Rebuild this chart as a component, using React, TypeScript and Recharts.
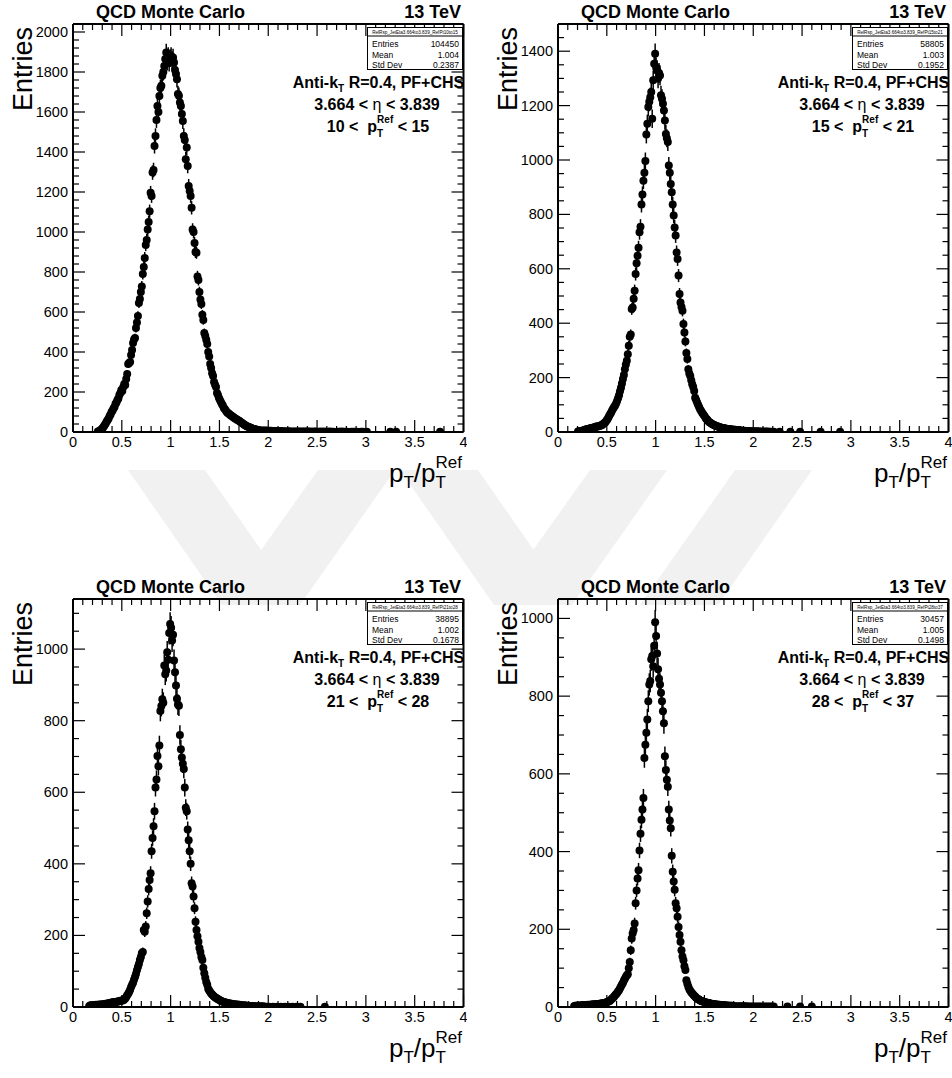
import { ScatterChart, Scatter, XAxis, YAxis, ErrorBar } from 'recharts';

const FONT = "'Liberation Sans', Arial, Helvetica, sans-serif";
const binWidth = 0.01;

const xTickLabels = [0, 0.5, 1, 1.5, 2, 2.5, 3, 3.5, 4];
const yTickLabels2000 = [0, 200, 400, 600, 800, 1000, 1200, 1400, 1600, 1800, 2000];
const yTickLabels1400 = [0, 200, 400, 600, 800, 1000, 1200, 1400];
const yTickLabels1000 = [0, 200, 400, 600, 800, 1000];

// 10 < pT(ref) < 15
const start10to15 = 0.25;
const counts10to15 = [
  2, 4, 6, 10, 15, 20, 28, 35, 42, 52,
  60, 68, 80, 88, 100, 108, 118, 125, 140, 148,
  160, 168, 185, 195, 210, 205, 225, 240, 235, 265,
  290, 340, 345, 350, 385, 410, 445, 462, 470, 520,
  548, 580, 645, 665, 700, 728, 790, 825, 870, 935,
  960, 1012, 1050, 1104, 1196, 1180, 1297, 1310, 1430, 1480,
  1560, 1630, 1600, 1680, 1720, 1731, 1781, 1800, 1830, 1865,
  1898, 1850, 1880, 1845, 1870, 1880, 1860, 1873, 1848, 1810,
  1790, 1764, 1690, 1681, 1647, 1630, 1590, 1555, 1480, 1460,
  1364, 1422, 1330, 1230, 1205, 1180, 1121, 1012, 1000, 945,
  900, 896, 778, 760, 700, 662, 640, 586, 560, 495,
  480, 461, 440, 400, 378, 340, 320, 294, 280, 250,
  236, 225, 195, 185, 170, 160, 150, 140, 132, 120,
  115, 108, 100, 95, 92, 88, 84, 80, 78, 72,
  70, 66, 64, 60, 58, 55, 50, 48, 44, 40,
  36, 34, 30, 28, 26, 24, 22, 20, 18, 16,
  15, 13, 12, 11, 10,
];
const tailX10to15 = [
  1.91, 1.93, 1.95, 1.97, 1.99, 2.01, 2.03, 2.05, 2.07, 2.09, 2.11, 2.13, 2.15, 2.17, 2.19, 2.21,
  2.23, 2.25, 2.27, 2.29, 2.31, 2.33, 2.35, 2.37, 2.39, 2.41, 2.43, 2.45, 2.47, 2.49, 2.53, 2.55,
  2.57, 2.59, 2.61, 2.63, 2.65, 2.67, 2.71, 2.73, 2.75, 2.77, 2.79, 2.81, 2.85, 2.87, 2.89, 2.91,
  2.95, 2.97, 3.01, 3.25, 3.31, 3.76,
];
const tailY10to15 = [
  9, 8, 8, 7, 7, 6, 6, 5, 5, 5, 4, 5, 4, 4, 3, 4,
  3, 3, 3, 3, 2, 3, 2, 2, 2, 2, 2, 1, 2, 2, 2, 1,
  2, 1, 1, 2, 1, 1, 1, 1, 2, 1, 1, 1, 1, 1, 1, 1,
  1, 1, 1, 1, 1, 1,
];

// 15 < pT(ref) < 21
const start15to21 = 0.2;
const counts15to21 = [
  2, 3, 3, 4, 5, 5, 6, 8, 9, 10,
  11, 12, 13, 14, 15, 16, 17, 17, 19, 20,
  20, 21, 22, 24, 25, 27, 30, 33, 36, 41,
  46, 52, 60, 66, 72, 80, 86, 92, 97, 105,
  114, 124, 135, 150, 163, 178, 195, 210, 231, 248,
  262, 286, 317, 350, 358, 452, 458, 490, 519, 581,
  620, 648, 677, 734, 755, 836, 873, 924, 953, 996,
  1094, 1133, 1195, 1214, 1231, 1250, 1152, 1293, 1354, 1391,
  1340, 1330, 1300, 1320, 1311, 1238, 1225, 1207, 1182, 1145,
  1096, 1080, 1066, 980, 953, 912, 881, 836, 796, 752,
  722, 660, 636, 575, 507, 476, 460, 446, 397, 366,
  333, 290, 268, 231, 215, 206, 190, 176, 165, 151,
  126, 118, 108, 100, 92, 84, 78, 72, 66, 62,
  56, 50, 47, 42, 38, 35, 33, 30, 28, 27,
  25, 23, 22, 20, 19, 18, 17, 16, 15, 14,
  14, 13, 12, 11, 11, 10, 10, 9, 9, 8,
  8, 8, 7, 7, 7, 6, 6, 5, 5, 5,
];
const tailX15to21 = [
  1.91, 1.93, 1.95, 1.97, 1.99, 2.01, 2.03, 2.05, 2.07, 2.09, 2.11, 2.13, 2.15, 2.17, 2.19, 2.21,
  2.27, 2.38, 2.48, 2.69, 2.89,
];
const tailY15to21 = [5, 4, 4, 4, 3, 3, 3, 3, 2, 2, 2, 2, 2, 1, 1, 1, 1, 1, 1, 1, 1];

// 21 < pT(ref) < 28
const start21to28 = 0.16;
const counts21to28 = [
  2, 4, 5, 4, 5, 4, 5, 6, 5, 6,
  6, 7, 6, 7, 8, 7, 8, 9, 9, 10,
  10, 11, 12, 12, 13, 13, 14, 14, 15, 15,
  16, 16, 17, 18, 18, 19, 21, 24, 28, 33,
  37, 42, 48, 56, 62, 68, 76, 84, 92, 103,
  112, 120, 131, 140, 150, 154, 215, 210, 225, 262,
  295, 330, 355, 374, 435, 472, 505, 547, 613, 636,
  701, 673, 731, 827, 841, 860, 850, 954, 930, 940,
  991, 970, 1045, 1070, 1060, 1024, 1040, 968, 935, 898,
  861, 845, 842, 760, 720, 697, 680, 665, 613, 557,
  547, 496, 466, 435, 400, 346, 337, 309, 276, 238,
  215, 198, 182, 165, 154, 140, 131, 110, 94, 82,
  70, 62, 51, 46, 42, 38, 35, 32, 29, 27,
  25, 24, 22, 20, 19, 17, 16, 15, 14, 13,
  12, 12, 11, 10, 10, 9, 9, 8, 8, 7,
  7, 7, 6, 6, 6, 5, 5, 5, 4, 4,
  4, 4, 3, 3,
];
const tailX21to28 = [
  1.81, 1.83, 1.85, 1.87, 1.89, 1.91, 1.93, 1.95, 1.97, 1.99, 2.01, 2.05, 2.09, 2.13, 2.17, 2.21,
  2.25, 2.29, 2.33, 2.58,
];
const tailY21to28 = [3, 3, 3, 2, 2, 2, 2, 2, 1, 1, 1, 1, 1, 1, 1, 1, 1, 1, 1, 1];

// 28 < pT(ref) < 37
const start28to37 = 0.16;
const counts28to37 = [
  2, 3, 3, 3, 4, 3, 4, 4, 4, 5,
  4, 5, 5, 5, 6, 5, 6, 6, 6, 7,
  6, 7, 7, 7, 8, 8, 8, 9, 9, 9,
  10, 10, 11, 12, 13, 14, 15, 17, 19, 22,
  24, 27, 30, 33, 36, 40, 43, 48, 53, 58,
  62, 68, 73, 78, 82, 84, 100, 116, 146, 176,
  190, 198, 215, 267, 300, 331, 352, 403, 446, 482,
  508, 538, 641, 675, 706, 740, 787, 830, 839, 895,
  903, 877, 930, 990, 955, 910, 869, 845, 830, 809,
  787, 761, 730, 645, 610, 585, 567, 508, 480, 460,
  389, 348, 323, 302, 267, 254, 232, 206, 185, 168,
  146, 130, 120, 105, 95, 69, 60, 52, 46, 42,
  38, 35, 32, 29, 27, 24, 22, 20, 19, 17,
  16, 15, 14, 13, 12, 12, 11, 10, 10, 9,
  9, 8, 8, 7, 7, 7, 6, 6, 6, 6,
  5, 5, 5, 5, 4, 4, 4, 4, 3, 3,
  3, 3, 3, 2,
];
const tailX28to37 = [
  1.81, 1.83, 1.85, 1.87, 1.89, 1.91, 1.93, 1.95, 1.97, 1.99, 2.01, 2.03, 2.05, 2.07, 2.09, 2.11,
  2.13, 2.15, 2.17, 2.19, 2.21, 2.35, 2.48, 2.6,
];
const tailY28to37 = [2, 2, 2, 2, 2, 2, 2, 1, 1, 1, 1, 1, 1, 1, 1, 1, 1, 1, 1, 1, 1, 1, 1, 1];

const statNames = [
  'RelRsp_JetEta3.664to3.839_RefPt10to15',
  'RelRsp_JetEta3.664to3.839_RefPt15to21',
  'RelRsp_JetEta3.664to3.839_RefPt21to28',
  'RelRsp_JetEta3.664to3.839_RefPt28to37',
];
const statEntries = ['104450', '58805', '38895', '30457'];
const statMeans = ['1.004', '1.003', '1.002', '1.005'];
const statStdDevs = ['0.2387', '0.1952', '0.1678', '0.1498'];
const ptLow = ['10', '15', '21', '28'];
const ptHigh = ['15', '21', '28', '37'];
const yMax = [2040, 1500, 1140, 1050];

type Pt = { x: number; y: number; err: number };

function buildPoints(start: number, counts: number[], tailX: number[], tailY: number[]): Pt[] {
  const pts = counts.map((c, i) => ({ x: start + (i + 0.5) * binWidth, y: c }));
  tailX.forEach((x, i) => pts.push({ x, y: tailY[i] }));
  return pts.filter((p) => p.y > 0).map((p) => ({ ...p, err: Math.sqrt(p.y) }));
}

function withMinors(major: number[], sub: number, max: number) {
  const step = (major[1] - major[0]) / sub;
  const out: number[] = [];
  for (let i = 0; i * step <= max + 1e-9; i++) out.push(Math.round(i * step * 1000) / 1000);
  return out;
}

const isMajor = (v: number, step: number) => Math.abs(v / step - Math.round(v / step)) < 1e-6;

const PANEL_W = 467;
const CHART_H = 500;
const MAJOR_LEN = 12;
const MINOR_LEN = 6;

const panels = [
  { left: 0, top: 0, data: buildPoints(start10to15, counts10to15, tailX10to15, tailY10to15), yLabels: yTickLabels2000, ySub: 5 },
  { left: 485, top: 0, data: buildPoints(start15to21, counts15to21, tailX15to21, tailY15to21), yLabels: yTickLabels1400, ySub: 4 },
  { left: 0, top: 575, data: buildPoints(start21to28, counts21to28, tailX21to28, tailY21to28), yLabels: yTickLabels1000, ySub: 4 },
  { left: 485, top: 575, data: buildPoints(start28to37, counts28to37, tailX28to37, tailY28to37), yLabels: yTickLabels1000, ySub: 4 },
];

function Panel({ idx }: { idx: number }) {
  const p = panels[idx];
  const xStep = xTickLabels[1] - xTickLabels[0];
  const yStep = p.yLabels[1] - p.yLabels[0];
  const xTicks = withMinors(xTickLabels, 5, 4);
  const yTicks = withMinors(p.yLabels, p.ySub, yMax[idx]);

  const bottomTick = (t: any) => {
    const v = t.payload.value;
    const major = isMajor(v, xStep);
    return (
      <g>
        <line x1={t.x} x2={t.x} y1={t.y} y2={t.y - (major ? MAJOR_LEN : MINOR_LEN)} stroke="#000" strokeWidth={1.2} />
        {major && (
          <text x={t.x} y={t.y + 15} textAnchor="middle" fontSize={14.5} fontFamily={FONT} fill="#000">
            {String(v)}
          </text>
        )}
      </g>
    );
  };
  const topTick = (t: any) => {
    const major = isMajor(t.payload.value, xStep);
    return <line x1={t.x} x2={t.x} y1={t.y} y2={t.y + (major ? MAJOR_LEN : MINOR_LEN)} stroke="#000" strokeWidth={1.2} />;
  };
  const leftTick = (t: any) => {
    const v = t.payload.value;
    const major = isMajor(v, yStep);
    return (
      <g>
        <line x1={t.x} x2={t.x + (major ? MAJOR_LEN : MINOR_LEN)} y1={t.y} y2={t.y} stroke="#000" strokeWidth={1.2} />
        {major && (
          <text x={t.x - 5} y={t.y + 5} textAnchor="end" fontSize={14.5} fontFamily={FONT} fill="#000">
            {String(v)}
          </text>
        )}
      </g>
    );
  };
  const rightTick = (t: any) => {
    const major = isMajor(t.payload.value, yStep);
    return <line x1={t.x} x2={t.x - (major ? MAJOR_LEN : MINOR_LEN)} y1={t.y} y2={t.y} stroke="#000" strokeWidth={1.2} />;
  };

  const axisLine = { stroke: '#000', strokeWidth: 2 };

  return (
    <div style={{ position: 'absolute', left: p.left, top: p.top, width: PANEL_W, height: CHART_H }}>
      <ScatterChart width={PANEL_W} height={CHART_H} margin={{ top: 24, right: 3.5, bottom: 0, left: 0 }}>
        <XAxis xAxisId="b" dataKey="x" type="number" domain={[0, 4]} ticks={xTicks} interval={0}
          tickSize={0} tickMargin={0} tickLine={false} axisLine={axisLine} height={CHART_H - 432}
          tick={bottomTick} allowDataOverflow />
        <XAxis xAxisId="t" dataKey="x" orientation="top" type="number" domain={[0, 4]} ticks={xTicks} interval={0}
          tickSize={0} tickMargin={0} tickLine={false} axisLine={axisLine} height={1} mirror
          tick={topTick} allowDataOverflow />
        <YAxis yAxisId="l" dataKey="y" type="number" domain={[0, yMax[idx]]} ticks={yTicks} interval={0}
          tickSize={0} tickMargin={0} tickLine={false} axisLine={axisLine} width={73}
          tick={leftTick} allowDataOverflow />
        <YAxis yAxisId="r" dataKey="y" orientation="right" type="number" domain={[0, yMax[idx]]} ticks={yTicks} interval={0}
          tickSize={0} tickMargin={0} tickLine={false} axisLine={axisLine} width={1} mirror
          tick={rightTick} allowDataOverflow />
        {/* carries the top and right frame axes; draws nothing itself */}
        <Scatter data={p.data} xAxisId="t" yAxisId="r" isAnimationActive={false} shape={() => <g />} />
        <Scatter data={p.data} xAxisId="b" yAxisId="l" isAnimationActive={false}
          shape={(s: any) => <circle cx={s.cx} cy={s.cy} r={4} fill="#000" />}>
          <ErrorBar dataKey="err" direction="y" width={0} stroke="#000" strokeWidth={1.5} isAnimationActive={false} />
        </Scatter>
      </ScatterChart>
      <svg width={PANEL_W} height={CHART_H} fontFamily={FONT}
        style={{ position: 'absolute', left: 0, top: 0, pointerEvents: 'none', overflow: 'visible' }}>
        <text x={96} y={18} fontSize={18} fontWeight="bold">QCD Monte Carlo</text>
        <text x={461} y={18} fontSize={18} fontWeight="bold" textAnchor="end">13 TeV</text>

        <rect x={367.5} y={27.5} width={95} height={42} fill="#fff" stroke="#000" strokeWidth={1} />
        <line x1={367.5} x2={462.5} y1={36} y2={36} stroke="#000" strokeWidth={1} />
        <text x={415} y={33.5} fontSize={4.6} textAnchor="middle">{statNames[idx]}</text>
        <text x={372} y={46.5} fontSize={8.5}>Entries</text>
        <text x={459} y={46.5} fontSize={8.5} textAnchor="end">{statEntries[idx]}</text>
        <text x={372} y={57.5} fontSize={8.5}>Mean</text>
        <text x={459} y={57.5} fontSize={8.5} textAnchor="end">{statMeans[idx]}</text>
        <text x={372} y={68} fontSize={8.5}>Std Dev</text>
        <text x={459} y={68} fontSize={8.5} textAnchor="end">{statStdDevs[idx]}</text>

        <text x={378.5} y={87.5} fontSize={16} fontWeight="bold" textAnchor="middle">
          Anti-k<tspan fontSize={10} dy={4}>T</tspan><tspan dy={-4}> R=0.4, PF+CHS</tspan>
        </text>
        <text x={377} y={110} fontSize={16} fontWeight="bold" textAnchor="middle">
          3.664 &lt; <tspan fontWeight="normal">η</tspan> &lt; 3.839
        </text>
        <text x={378} y={132} fontSize={16} fontWeight="bold" textAnchor="middle">
          {ptLow[idx]} &lt;{'\u00a0 '}p<tspan fontSize={10} dy={5}>T</tspan>
          <tspan fontSize={10} dx={-6} dy={-14}>Ref</tspan>
          <tspan dy={9}> &lt; {ptHigh[idx]}</tspan>
        </text>

        <text transform="translate(32,27) rotate(-90)" fontSize={27} textAnchor="end">Entries</text>
        <text x={462} y={482} fontSize={26} textAnchor="end">
          p<tspan fontSize={17} dy={6}>T</tspan><tspan dy={-6}>/p</tspan>
          <tspan fontSize={17} dy={6}>T</tspan>
          <tspan fontSize={17} dx={-10.4} dy={-20}>Ref</tspan>
        </text>
      </svg>
    </div>
  );
}

// faint page watermark between the two rows of plots
function Watermark() {
  const fill = '#f1f1f1';
  return (
    <svg width={952} height={1078} style={{ position: 'absolute', left: 0, top: 0 }}>
      <polygon points="128,470 205,470 300,605 222,605" fill={fill} />
      <polygon points="222,605 300,605 395,470 318,470" fill={fill} />
      <polygon points="400,470 478,470 572,605 494,605" fill={fill} />
      <polygon points="494,605 572,605 667,470 590,470" fill={fill} />
      <polygon points="640,605 718,605 812,470 735,470" fill={fill} />
    </svg>
  );
}

export default function App() {
  return (
    <div style={{ position: 'absolute', left: 0, top: 0, width: 952, height: 1078, overflow: 'hidden', background: '#fff' }}>
      <Watermark />
      {panels.map((_, i) => (
        <Panel key={i} idx={i} />
      ))}
    </div>
  );
}
